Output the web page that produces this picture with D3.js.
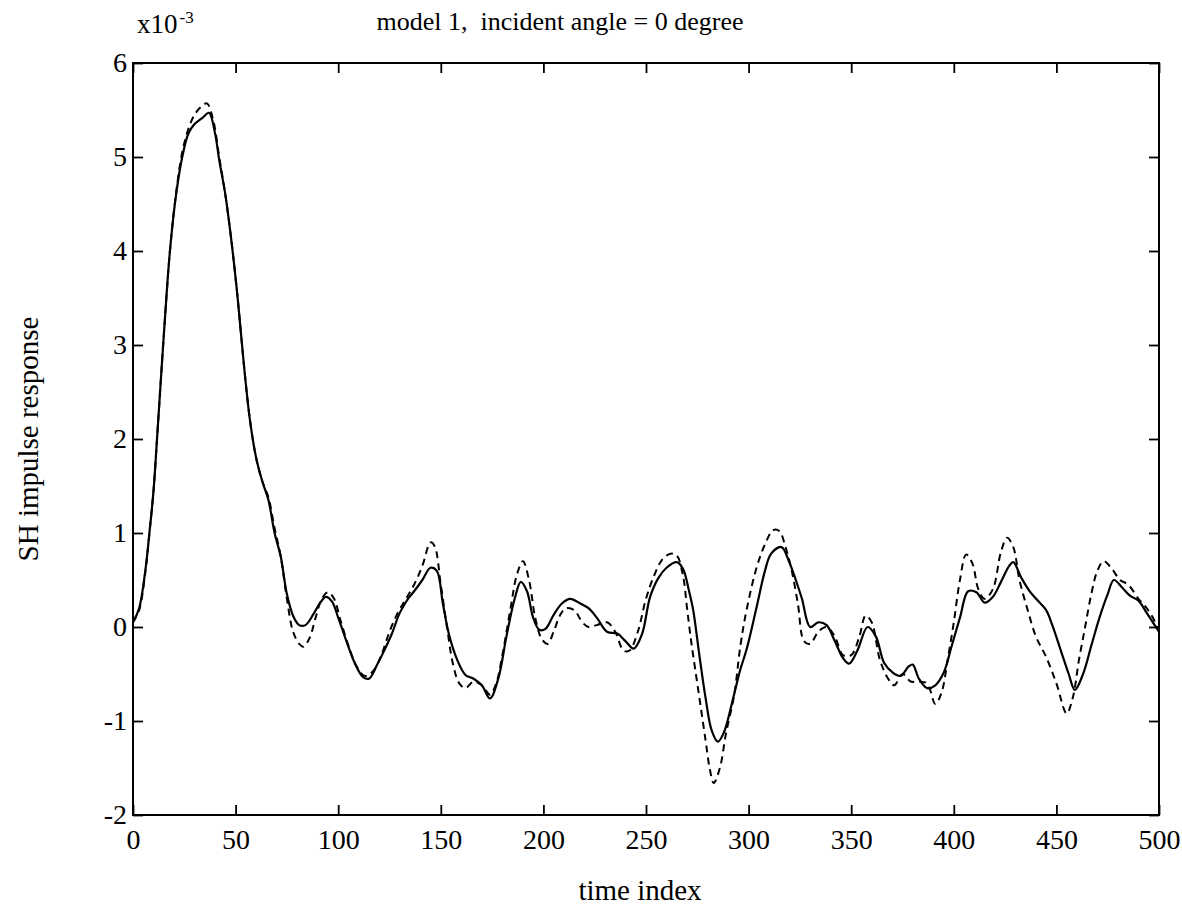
<!DOCTYPE html>
<html>
<head>
<meta charset="utf-8">
<script src="https://cdn.jsdelivr.net/npm/d3@7"></script>
<style>
  body { margin: 0; background: #fff; }
  text { font-family: "Liberation Serif", "Times New Roman", serif; fill: #000; }
</style>
</head>
<body>
<svg id="chart" width="1182" height="917"></svg>
<script>
// tick values
var xTicks = [0, 50, 100, 150, 200, 250, 300, 350, 400, 450, 500]
var yTicks = [-2, -1, 0, 1, 2, 3, 4, 5, 6]

// solid curve (units of 1e-3)
var solidT = [0, 3, 6, 8, 10, 12, 15, 18, 21, 24, 27, 30, 34, 37, 40, 42, 45, 48, 51, 54, 57, 60, 63, 66, 69, 72, 75, 78, 81, 84, 88, 91, 94, 97, 100,
  104, 108, 112, 115, 119, 122, 126, 130, 134, 137, 141, 145, 148, 151, 154, 158, 162, 166, 170, 174, 178, 182, 186, 189, 192, 195, 198, 201,
  205, 209, 213, 218, 222, 226, 231, 236, 240, 244, 248, 252, 256, 260, 265, 268, 271, 273, 276, 279, 282, 285, 288, 292, 296, 299, 304, 308,
  311, 316, 320, 323, 326, 330, 334, 338, 342, 346, 349, 353, 358, 362, 366, 370, 374, 378, 380, 383, 387, 391, 395, 399, 403, 407, 411, 415,
  419, 423, 427, 429, 433, 437, 441, 445, 448, 452, 456, 459, 463, 467, 471, 475, 478, 482, 486, 490, 494, 497, 500]
var solidV = [0.05, 0.2, 0.6, 1.0, 1.45, 2.1, 3.1, 4.0, 4.6, 5.0, 5.25, 5.35, 5.42, 5.47, 5.25, 4.97, 4.6, 4.1, 3.5, 2.8, 2.2, 1.8, 1.55, 1.35, 1.0, 0.75, 0.35, 0.12, 0.02, 0.02, 0.14, 0.25, 0.32, 0.27, 0.1,
  -0.15, -0.38, -0.53, -0.55, -0.4, -0.27, -0.08, 0.15, 0.3, 0.38, 0.5, 0.63, 0.6, 0.25, -0.08, -0.35, -0.51, -0.55, -0.62, -0.76, -0.55, -0.1, 0.3, 0.48, 0.38, 0.1, -0.03, -0.02,
  0.13, 0.25, 0.3, 0.25, 0.2, 0.1, -0.05, -0.07, -0.15, -0.23, -0.08, 0.32, 0.52, 0.63, 0.69, 0.62, 0.38, 0.18, -0.3, -0.75, -1.1, -1.22, -1.12, -0.8, -0.45, -0.24, 0.22, 0.6,
  0.78, 0.85, 0.68, 0.5, 0.3, 0.0, 0.05, 0.02, -0.15, -0.33, -0.39, -0.25, 0.0, -0.1, -0.38, -0.48, -0.52, -0.42, -0.4, -0.55, -0.65, -0.62, -0.49, -0.2, 0.1, 0.38, 0.37, 0.26,
  0.32, 0.48, 0.65, 0.69, 0.52, 0.38, 0.28, 0.18, 0.02, -0.24, -0.5, -0.67, -0.5, -0.2, 0.1, 0.35, 0.5, 0.42, 0.33, 0.28, 0.15, 0.05, -0.05]

// dashed curve (units of 1e-3)
var dashT = [0, 3, 6, 8, 10, 12, 15, 18, 21, 24, 27, 30, 33, 36, 39, 42, 45, 48, 51, 54, 57, 60, 63, 66, 69, 72, 75, 78, 81, 83, 86, 89, 92, 95, 98,
  101, 105, 109, 113, 117, 121, 125, 129, 133, 137, 141, 145, 147, 150, 153, 156, 159, 162, 166, 170, 174, 177, 180, 184, 187, 190, 193, 196,
  199, 202, 205, 208, 211, 215, 219, 222, 226, 231, 235, 239, 242, 246, 250, 254, 258, 262, 265, 268, 270, 272, 276, 279, 281, 283, 286, 289,
  293, 296, 299, 304, 308, 312, 315, 318, 321, 324, 327, 330, 334, 338, 342, 346, 350, 354, 357, 360, 364, 368, 371, 375, 379, 383, 387, 391,
  394, 397, 400, 403, 406, 409, 412, 415, 419, 423, 426, 429, 432, 436, 440, 445, 450, 455, 458, 461, 464, 467, 470, 473, 477, 481, 485, 490,
  494, 497, 500]
var dashV = [0.05, 0.18, 0.58, 1.0, 1.45, 2.1, 3.1, 4.0, 4.62, 5.05, 5.3, 5.45, 5.53, 5.57, 5.4, 5.0, 4.6, 4.1, 3.5, 2.8, 2.2, 1.8, 1.55, 1.38, 1.05, 0.75, 0.3, -0.05, -0.18, -0.21, -0.12, 0.1, 0.3, 0.37, 0.3,
  0.08, -0.2, -0.42, -0.52, -0.47, -0.3, -0.05, 0.15, 0.3, 0.45, 0.65, 0.9, 0.86, 0.45, 0.0, -0.4, -0.6, -0.65, -0.58, -0.62, -0.72, -0.6, -0.3, 0.2, 0.55, 0.7, 0.5, 0.1,
  -0.12, -0.18, -0.05, 0.12, 0.2, 0.18, 0.05, 0.0, 0.02, 0.05, -0.05, -0.25, -0.25, -0.05, 0.3, 0.55, 0.72, 0.78, 0.76, 0.55, 0.2, -0.15, -0.75, -1.2, -1.5, -1.66, -1.5, -1.13,
  -0.72, -0.2, 0.18, 0.64, 0.88, 1.03, 1.02, 0.85, 0.6, 0.25, -0.15, -0.18, -0.05, 0.0, -0.1, -0.3, -0.3, -0.1, 0.12, 0.05, -0.35, -0.55, -0.62, -0.5, -0.58, -0.58, -0.6, -0.82,
  -0.7, -0.35, 0.05, 0.5, 0.77, 0.68, 0.4, 0.3, 0.4, 0.8, 0.95, 0.85, 0.5, 0.18, -0.1, -0.32, -0.6, -0.92, -0.75, -0.35, 0.0, 0.35, 0.6, 0.7, 0.62, 0.5, 0.45, 0.3,
  0.2, 0.1, -0.05]

var plotLeft = 133, plotRight = 1159, plotTop = 63, plotBottom = 815

var svg = d3.select("#chart")

var x = d3.scaleLinear().domain([0, 500]).range([plotLeft, plotRight])
var y = d3.scaleLinear().domain([-2, 6]).range([plotBottom, plotTop])

// ticks on all four sides, pointing inward
var tick = 10
var plain = function(d) { return String(d) }
svg.append("g")
   .attr("transform", "translate(0," + plotBottom + ")")
   .call(d3.axisBottom(x).tickValues(xTicks).tickSize(-tick).tickPadding(14).tickFormat(plain))
svg.append("g")
   .attr("transform", "translate(0," + plotTop + ")")
   .call(d3.axisTop(x).tickValues(xTicks).tickSize(-tick).tickFormat(""))
svg.append("g")
   .attr("transform", "translate(" + plotLeft + ",0)")
   .call(d3.axisLeft(y).tickValues(yTicks).tickSize(-tick).tickPadding(6).tickFormat(plain))
svg.append("g")
   .attr("transform", "translate(" + plotRight + ",0)")
   .call(d3.axisRight(y).tickValues(yTicks).tickSize(-tick).tickFormat(""))

svg.selectAll(".domain").remove()
svg.selectAll(".tick line").attr("stroke", "#000").attr("stroke-width", 1.8)
svg.selectAll(".tick text")
   .style("font-family", "'Liberation Serif', serif")
   .style("font-size", "28px")
   .attr("fill", "#000")

svg.append("rect")
   .attr("x", plotLeft).attr("y", plotTop)
   .attr("width", plotRight - plotLeft).attr("height", plotBottom - plotTop)
   .attr("fill", "none").attr("stroke", "#000").attr("stroke-width", 2)

var line = d3.line()
             .x(function(d) { return x(d[0]) })
             .y(function(d) { return y(d[1]) })
             .curve(d3.curveCatmullRom.alpha(0.5))

svg.append("path")
   .datum(d3.zip(dashT, dashV))
   .attr("d", line)
   .attr("fill", "none")
   .attr("stroke", "#000")
   .attr("stroke-width", 2)
   .attr("stroke-dasharray", "7,5")

svg.append("path")
   .datum(d3.zip(solidT, solidV))
   .attr("d", line)
   .attr("fill", "none")
   .attr("stroke", "#000")
   .attr("stroke-width", 2.2)

// title and labels
svg.append("text")
   .attr("x", 560).attr("y", 30)
   .attr("text-anchor", "middle")
   .style("font-size", "26px")
   .style("white-space", "pre")
   .text("model 1,  incident angle = 0 degree")

var expo = svg.append("text")
              .attr("x", 137).attr("y", 33)
              .style("font-size", "27px")
              .text("x10")
expo.append("tspan")
    .attr("dy", -10)
    .attr("dx", 2)
    .style("font-size", "17px")
    .text("-3")

svg.append("text")
   .attr("transform", "translate(38," + ((plotTop + plotBottom) / 2) + ") rotate(-90)")
   .attr("text-anchor", "middle")
   .style("font-size", "29px")
   .text("SH impulse response")

svg.append("text")
   .attr("x", 640).attr("y", 900)
   .attr("text-anchor", "middle")
   .style("font-size", "29px")
   .text("time index")
</script>
</body>
</html>
